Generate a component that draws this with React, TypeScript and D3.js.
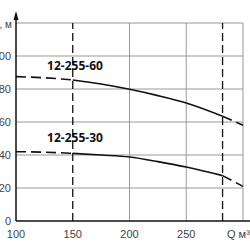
import React, { useRef, useEffect } from 'react';
import * as d3 from 'd3';

const flowQ = [100, 125, 150, 175, 200, 225, 250, 282, 300];
const head60 = [87.5, 86.8, 85.5, 83, 79.8, 76, 71.5, 63.5, 58];
const head30 = [42, 41.7, 41, 40, 38.8, 36, 32.7, 27.5, 21];
const seriesNames = ['12-255-60', '12-255-30'];
const xTicks = [100, 150, 200, 250];
const yTicks = [0, 20, 40, 60, 80, 100];
const gridX = [200, 250, 300];
const gridY = [20, 40, 60, 80, 100, 120];
const markQ = [150, 282];

const App = () => {
  const svgRef = useRef<SVGSVGElement>(null);

  useEffect(() => {
    const width = 250;
    const height = 250;
    const svg = d3.select(svgRef.current).attr('width', width).attr('height', height);
    svg.selectAll('*').remove();

    const x = d3.scaleLinear().domain([100, 300]).range([16, 243]);
    const y = d3.scaleLinear().domain([0, 120]).range([221, 23]);

    // grid
    svg
      .append('g')
      .selectAll('line')
      .data(gridY)
      .join('line')
      .attr('x1', x(100))
      .attr('x2', x(300))
      .attr('y1', d => y(d))
      .attr('y2', d => y(d))
      .attr('stroke', '#999')
      .attr('stroke-width', 1);

    svg
      .append('g')
      .selectAll('line')
      .data(gridX)
      .join('line')
      .attr('x1', d => x(d))
      .attr('x2', d => x(d))
      .attr('y1', y(0))
      .attr('y2', y(120))
      .attr('stroke', '#999')
      .attr('stroke-width', 1);

    // dashed marker lines
    svg
      .append('g')
      .selectAll('line')
      .data(markQ)
      .join('line')
      .attr('x1', d => x(d))
      .attr('x2', d => x(d))
      .attr('y1', y(0))
      .attr('y2', y(120))
      .attr('stroke', '#111')
      .attr('stroke-width', 1.3)
      .attr('stroke-dasharray', '8,4');

    // axes
    svg
      .append('line')
      .attr('x1', x(100))
      .attr('x2', width)
      .attr('y1', y(0))
      .attr('y2', y(0))
      .attr('stroke', '#111')
      .attr('stroke-width', 1.5);
    svg
      .append('line')
      .attr('x1', x(100))
      .attr('x2', x(100))
      .attr('y1', y(0))
      .attr('y2', 14)
      .attr('stroke', '#111')
      .attr('stroke-width', 1.5);
    svg
      .append('path')
      .attr('d', `M${x(100) - 2.5},20 L${x(100)},11 L${x(100) + 2.5},20 Z`)
      .attr('fill', '#111');

    // tick labels
    svg
      .append('g')
      .selectAll('text')
      .data(yTicks)
      .join('text')
      .attr('x', 11)
      .attr('y', d => y(d) + 4)
      .attr('text-anchor', 'end')
      .style('font-family', 'Liberation Sans, Arial, sans-serif')
      .style('font-size', '11px')
      .style('fill', '#444')
      .text(d => d);

    svg
      .append('g')
      .selectAll('text')
      .data(xTicks)
      .join('text')
      .attr('x', d => x(d))
      .attr('y', 238)
      .attr('text-anchor', 'middle')
      .style('font-family', 'Liberation Sans, Arial, sans-serif')
      .style('font-size', '11px')
      .style('fill', '#444')
      .text(d => d);

    svg
      .append('text')
      .attr('x', 227)
      .attr('y', 238)
      .style('font-family', 'Liberation Sans, Arial, sans-serif')
      .style('font-size', '11px')
      .style('fill', '#444')
      .text('Q м³/ч');

    svg
      .append('text')
      .attr('x', 12)
      .attr('y', 28)
      .attr('text-anchor', 'end')
      .style('font-family', 'Liberation Sans, Arial, sans-serif')
      .style('font-size', '10px')
      .style('fill', '#444')
      .text('Н, м');

    // curves
    const line = d3
      .line<[number, number]>()
      .x(d => x(d[0]))
      .y(d => y(d[1]))
      .curve(d3.curveMonotoneX);

    const drawSeries = (vals: number[]) => {
      const pts: [number, number][] = flowQ.map((q, i) => [q, vals[i]]);
      const parts = [
        { p: pts.filter(d => d[0] <= 150), dash: '10,5' },
        { p: pts.filter(d => d[0] >= 150 && d[0] <= 282), dash: null },
        { p: pts.filter(d => d[0] >= 282), dash: '10,5' },
      ];
      parts.forEach(part => {
        svg
          .append('path')
          .attr('d', line(part.p))
          .attr('fill', 'none')
          .attr('stroke', '#111')
          .attr('stroke-width', 1.6)
          .attr('stroke-dasharray', part.dash);
      });
    };
    drawSeries(head60);
    drawSeries(head30);

    const labelY = [70, 142];
    seriesNames.forEach((name, i) => {
      svg
        .append('text')
        .attr('x', 75)
        .attr('y', labelY[i])
        .attr('text-anchor', 'middle')
        .style('font-family', 'Open Sans, sans-serif')
        .style('font-weight', 'bold')
        .style('font-size', '12px')
        .style('fill', '#111')
        .text(name);
    });
  }, []);

  return (
    <div style={{ position: 'fixed', left: 0, top: 0, width: 250, height: 250, background: '#fff' }}>
      <svg ref={svgRef} style={{ display: 'block' }}></svg>
    </div>
  );
};

export default App;
